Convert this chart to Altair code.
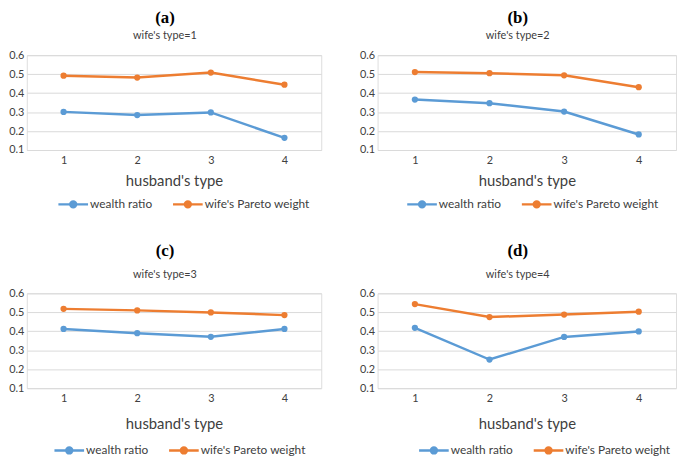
import altair as alt
import pandas as pd

husband_types = ["1", "2", "3", "4"]
series_names = ["wealth ratio", "wife's Pareto weight"]
panel_letters = ["(a)", "(b)", "(c)", "(d)"]
panel_subtitles = ["wife's type=1", "wife's type=2", "wife's type=3", "wife's type=4"]

wealth_a = [0.301, 0.284, 0.298, 0.164]
pareto_a = [0.492, 0.482, 0.508, 0.444]
wealth_b = [0.366, 0.347, 0.303, 0.182]
pareto_b = [0.511, 0.505, 0.494, 0.431]
wealth_c = [0.412, 0.390, 0.371, 0.412]
pareto_c = [0.518, 0.510, 0.499, 0.485]
wealth_d = [0.418, 0.251, 0.370, 0.399]
pareto_d = [0.543, 0.475, 0.488, 0.503]

y_ticks = [0.1, 0.2, 0.3, 0.4, 0.5, 0.6]

wealth_all = [wealth_a, wealth_b, wealth_c, wealth_d]
pareto_all = [pareto_a, pareto_b, pareto_c, pareto_d]

# layout / style per panel
panel_width = [298, 302, 298, 302]
legend_x = [32, 30, 28, 42]
legend_y = [142, 142, 150, 150]
xtitle_pad = [8, 8, 13, 13]
title_offset = [7, 7, 6, 6]
subtitle_pad = [4, 4, 10, 10]

BLUE = "#5b9bd5"
ORANGE = "#ed7d31"
FONT = "Lato"
TEXT = "#404040"

# line + solid disc (concentric rings) symbol for Excel-like legend
legend_symbol = (
    "M-2,0L2,0"
    "M0.13,0A0.13,0.13,0,1,1,-0.13,0A0.13,0.13,0,1,1,0.13,0Z"
    "M0.27,0A0.27,0.27,0,1,1,-0.27,0A0.27,0.27,0,1,1,0.27,0Z"
    "M0.4,0A0.4,0.4,0,1,1,-0.4,0A0.4,0.4,0,1,1,0.4,0Z"
)


def panel(i):
    rows = []
    for k, h in enumerate(husband_types):
        rows.append({"husband": h, "series": series_names[0], "value": wealth_all[i][k]})
        rows.append({"husband": h, "series": series_names[1], "value": pareto_all[i][k]})
    df = pd.DataFrame(rows)
    return (
        alt.Chart(df)
        .mark_line(strokeWidth=2.5, point=alt.OverlayMarkDef(filled=True, size=40))
        .encode(
            x=alt.X(
                "husband:O",
                scale=alt.Scale(type="point", padding=0.5, domain=husband_types),
                axis=alt.Axis(
                    title="husband's type",
                    labelAngle=0,
                    ticks=False,
                    domain=False,
                    grid=False,
                    labelPadding=5,
                    labelFontSize=11,
                    labelColor=TEXT,
                    titleFontSize=15,
                    titleFontWeight="normal",
                    titleColor=TEXT,
                    titlePadding=xtitle_pad[i],
                    labelFont=FONT,
                    titleFont=FONT,
                ),
            ),
            y=alt.Y(
                "value:Q",
                scale=alt.Scale(domain=[0.1, 0.6], nice=False, zero=False),
                axis=alt.Axis(
                    title=None,
                    values=y_ticks,
                    format=".1f",
                    ticks=False,
                    domain=False,
                    grid=True,
                    gridColor="#d9d9d9",
                    gridWidth=1,
                    labelPadding=3,
                    labelFontSize=11,
                    labelColor=TEXT,
                    labelFont=FONT,
                ),
            ),
            color=alt.Color(
                "series:N",
                scale=alt.Scale(domain=series_names, range=[BLUE, ORANGE]),
                legend=alt.Legend(
                    title=None,
                    orient="none",
                    legendX=legend_x[i],
                    legendY=legend_y[i],
                    direction="horizontal",
                    symbolType=legend_symbol,
                    symbolSize=225,
                    symbolStrokeWidth=2.5,
                    symbolOffset=6,
                    labelFontSize=12,
                    labelFont=FONT,
                    labelColor=TEXT,
                    labelOffset=8,
                    columnPadding=16,
                ),
            ),
        )
        .properties(
            width=panel_width[i],
            height=96,
            title=alt.TitleParams(
                text=panel_letters[i],
                subtitle=panel_subtitles[i],
                font="Liberation Serif",
                fontSize=17,
                fontWeight="bold",
                color="black",
                subtitleFont=FONT,
                subtitleFontSize=11,
                subtitleColor=TEXT,
                subtitlePadding=subtitle_pad[i],
                offset=title_offset[i],
                anchor="middle",
                frame="bounds",
            ),
        )
    )


row1 = (
    alt.hconcat(panel(0), panel(1), spacing=37)
    .resolve_scale(color="independent")
    .resolve_legend(color="independent")
)
row2 = (
    alt.hconcat(panel(2), panel(3), spacing=37)
    .resolve_scale(color="independent")
    .resolve_legend(color="independent")
)

chart = (
    alt.vconcat(row1, row2, spacing=28)
    .resolve_scale(color="independent")
    .resolve_legend(color="independent")
    .properties(padding={"left": 0, "top": -3, "right": 0, "bottom": 0})
    .configure_view(strokeWidth=0)
    .configure(background="white")
)

chart.save("out.html", embed_options={"renderer": "svg", "actions": False})
